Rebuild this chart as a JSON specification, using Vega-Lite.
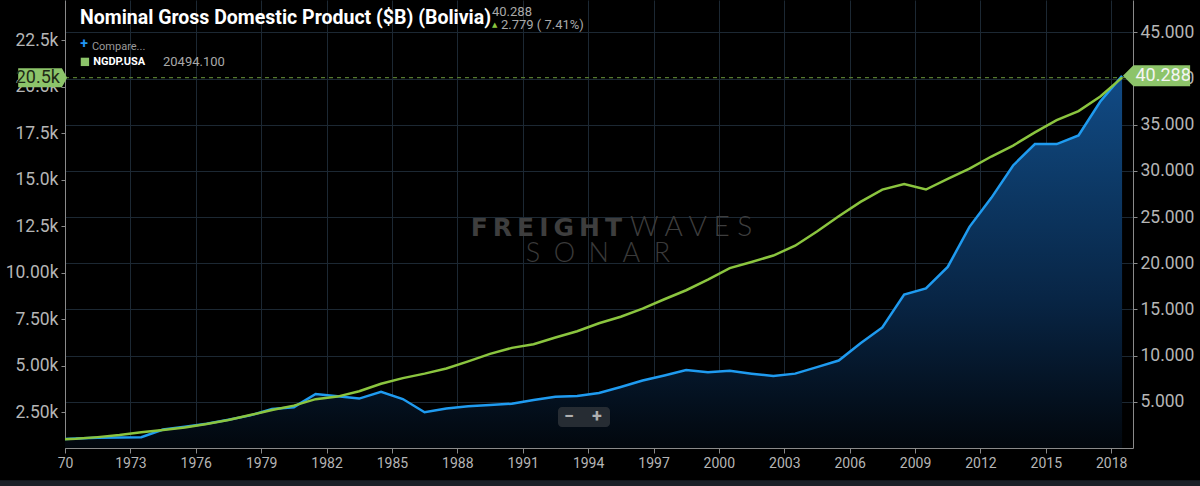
{
  "$schema": "https://vega.github.io/schema/vega-lite/v6.json",
  "width": 1068,
  "height": 448,
  "autosize": "none",
  "padding": {"left": 65, "top": 0, "right": 67, "bottom": 38},
  "background": "#000000",
  "data": {
    "values": [
      {"date": "1969-07-02", "usa": 1019.9, "bolivia": 0.95},
      {"date": "1970-07-02", "usa": 1073.3, "bolivia": 1.02},
      {"date": "1971-07-02", "usa": 1164.9, "bolivia": 1.1},
      {"date": "1972-07-02", "usa": 1279.1, "bolivia": 1.15},
      {"date": "1973-07-02", "usa": 1425.4, "bolivia": 1.17},
      {"date": "1974-07-02", "usa": 1545.2, "bolivia": 2.0},
      {"date": "1975-07-02", "usa": 1684.9, "bolivia": 2.3},
      {"date": "1976-07-02", "usa": 1873.4, "bolivia": 2.62},
      {"date": "1977-07-02", "usa": 2081.8, "bolivia": 3.05},
      {"date": "1978-07-02", "usa": 2351.6, "bolivia": 3.53},
      {"date": "1979-07-02", "usa": 2627.3, "bolivia": 4.22},
      {"date": "1980-07-02", "usa": 2857.3, "bolivia": 4.42},
      {"date": "1981-07-02", "usa": 3207.0, "bolivia": 5.85},
      {"date": "1982-07-02", "usa": 3343.8, "bolivia": 5.6},
      {"date": "1983-07-02", "usa": 3634.0, "bolivia": 5.35},
      {"date": "1984-07-02", "usa": 4037.6, "bolivia": 6.08},
      {"date": "1985-07-02", "usa": 4339.0, "bolivia": 5.3},
      {"date": "1986-07-02", "usa": 4579.6, "bolivia": 3.87},
      {"date": "1987-07-02", "usa": 4855.2, "bolivia": 4.27},
      {"date": "1988-07-02", "usa": 5236.4, "bolivia": 4.52},
      {"date": "1989-07-02", "usa": 5641.6, "bolivia": 4.66},
      {"date": "1990-07-02", "usa": 5963.1, "bolivia": 4.8},
      {"date": "1991-07-02", "usa": 6158.1, "bolivia": 5.2},
      {"date": "1992-07-02", "usa": 6520.3, "bolivia": 5.55},
      {"date": "1993-07-02", "usa": 6858.6, "bolivia": 5.64},
      {"date": "1994-07-02", "usa": 7287.2, "bolivia": 5.95},
      {"date": "1995-07-02", "usa": 7639.7, "bolivia": 6.6},
      {"date": "1996-07-02", "usa": 8073.1, "bolivia": 7.3},
      {"date": "1997-07-02", "usa": 8577.6, "bolivia": 7.85},
      {"date": "1998-07-02", "usa": 9062.8, "bolivia": 8.45},
      {"date": "1999-07-02", "usa": 9631.2, "bolivia": 8.2},
      {"date": "2000-07-02", "usa": 10251.0, "bolivia": 8.35},
      {"date": "2001-07-02", "usa": 10581.9, "bolivia": 8.05},
      {"date": "2002-07-02", "usa": 10929.1, "bolivia": 7.8},
      {"date": "2003-07-02", "usa": 11456.4, "bolivia": 8.05},
      {"date": "2004-07-02", "usa": 12217.2, "bolivia": 8.75},
      {"date": "2005-07-02", "usa": 13039.2, "bolivia": 9.47},
      {"date": "2006-07-02", "usa": 13815.6, "bolivia": 11.35},
      {"date": "2007-07-02", "usa": 14474.2, "bolivia": 13.05},
      {"date": "2008-07-02", "usa": 14769.9, "bolivia": 16.6},
      {"date": "2009-07-02", "usa": 14478.1, "bolivia": 17.28},
      {"date": "2010-07-02", "usa": 15049.0, "bolivia": 19.6},
      {"date": "2011-07-02", "usa": 15599.7, "bolivia": 23.94},
      {"date": "2012-07-02", "usa": 16254.0, "bolivia": 27.08},
      {"date": "2013-07-02", "usa": 16843.2, "bolivia": 30.59},
      {"date": "2014-07-02", "usa": 17550.7, "bolivia": 32.9},
      {"date": "2015-07-02", "usa": 18206.0, "bolivia": 32.9},
      {"date": "2016-07-02", "usa": 18695.1, "bolivia": 33.84},
      {"date": "2017-07-02", "usa": 19479.6, "bolivia": 37.509},
      {"date": "2018-07-02", "usa": 20494.1, "bolivia": 40.288}
    ]
  },
  "layer": [
    {
      "mark": {
        "type": "area",
        "clip": true,
        "color": {
          "gradient": "linear",
          "x1": 1, "y1": 1, "x2": 1, "y2": 0,
          "stops": [
            {"offset": 0, "color": "#02070d"},
            {"offset": 0.4, "color": "#082545"},
            {"offset": 0.8, "color": "#0e3f70"},
            {"offset": 1, "color": "#114a85"}
          ]
        }
      },
      "encoding": {
        "x": {
          "field": "date",
          "type": "temporal",
          "scale": {
            "type": "utc",
            "nice": false,
            "domain": [
              {"year": 1970, "month": 1, "date": 1, "utc": true},
              {"year": 2019, "month": 1, "date": 1, "utc": true}
            ]
          },
          "axis": {
            "orient": "bottom",
            "title": null,
            "format": "%Y",
            "values": [
              0, 94694400000, 189302400000, 283996800000, 378691200000, 473385600000,
              567993600000, 662688000000, 757382400000, 852076800000, 946684800000,
              1041379200000, 1136073600000, 1230768000000, 1325376000000,
              1420070400000, 1514764800000
            ],
            "labelExpr": "utcyear(datum.value) == 1970 ? '     70' : datum.label",
            "labelFlush": false,
            "labelOverlap": false,
            "labelFontSize": 14,
            "labelPadding": 3,
            "tickSize": 5,
            "grid": true
          }
        },
        "y": {
          "field": "bolivia",
          "type": "quantitative",
          "scale": {"domain": [0, 48.5], "nice": false},
          "axis": {
            "orient": "right",
            "title": null,
            "values": [5, 10, 15, 20, 25, 30, 35, 40, 45],
            "format": ".3f",
            "labelFontSize": 17.5,
            "labelPadding": 3,
            "tickSize": 4,
            "grid": true
          }
        }
      }
    },
    {
      "mark": {"type": "line", "clip": true, "color": "#1f9bf0", "strokeWidth": 2.5},
      "encoding": {
        "x": {"field": "date", "type": "temporal"},
        "y": {"field": "bolivia", "type": "quantitative", "scale": {"domain": [0, 48.5], "nice": false}, "axis": null}
      }
    },
    {
      "data": {"values": [{}]},
      "mark": {"type": "text", "align": "right", "baseline": "middle", "font": "DejaVu Sans", "fontWeight": "bold", "fontSize": 25, "color": "#3e3e3e"},
      "encoding": {
        "x": {"datum": {"year": 1995, "month": 7, "date": 22, "utc": true}, "type": "temporal"},
        "y": {"datum": 23.8, "type": "quantitative", "scale": {"domain": [0, 48.5], "nice": false}, "axis": null},
        "text": {"value": "F\u2009R\u2009E\u2009I\u2009G\u2009H\u2009T"}
      }
    },
    {
      "data": {"values": [{}]},
      "mark": {"type": "text", "align": "left", "baseline": "middle", "font": "Lato", "fontWeight": 300, "fontSize": 28, "color": "#3e3e3e"},
      "encoding": {
        "x": {"datum": {"year": 1995, "month": 12, "date": 3, "utc": true}, "type": "temporal"},
        "y": {"datum": 23.8, "type": "quantitative", "scale": {"domain": [0, 48.5], "nice": false}, "axis": null},
        "text": {"value": "W A V E S"}
      }
    },
    {
      "data": {"values": [{}]},
      "mark": {"type": "text", "align": "center", "baseline": "middle", "font": "Lato", "fontWeight": 300, "fontSize": 27, "color": "#3a3a3a"},
      "encoding": {
        "x": {"datum": {"year": 1994, "month": 6, "date": 14, "utc": true}, "type": "temporal"},
        "y": {"datum": 21.0, "type": "quantitative", "scale": {"domain": [0, 48.5], "nice": false}, "axis": null},
        "text": {"value": "S\u2002O\u2002N\u2002A\u2002R"}
      }
    },
    {
      "data": {"values": [{}]},
      "mark": {"type": "rect", "color": "#262c33", "cornerRadius": 4},
      "encoding": {
        "x": {"datum": {"year": 1992, "month": 8, "date": 14, "utc": true}, "type": "temporal"},
        "x2": {"datum": {"year": 1995, "month": 1, "date": 3, "utc": true}},
        "y": {"datum": 4.44, "type": "quantitative", "scale": {"domain": [0, 48.5], "nice": false}, "axis": null},
        "y2": {"datum": 2.27}
      }
    },
    {
      "data": {"values": [{}]},
      "mark": {"type": "text", "align": "center", "baseline": "middle", "font": "Roboto", "fontWeight": "bold", "fontSize": 18, "color": "#b0b0b0"},
      "encoding": {
        "x": {"datum": {"year": 1993, "month": 2, "date": 14, "utc": true}, "type": "temporal"},
        "y": {"datum": 3.4, "type": "quantitative", "scale": {"domain": [0, 48.5], "nice": false}, "axis": null},
        "text": {"value": "−"}
      }
    },
    {
      "data": {"values": [{}]},
      "mark": {"type": "text", "align": "center", "baseline": "middle", "font": "Roboto", "fontWeight": "bold", "fontSize": 18, "color": "#b0b0b0"},
      "encoding": {
        "x": {"datum": {"year": 1994, "month": 5, "date": 30, "utc": true}, "type": "temporal"},
        "y": {"datum": 3.4, "type": "quantitative", "scale": {"domain": [0, 48.5], "nice": false}, "axis": null},
        "text": {"value": "+"}
      }
    },
    {
      "data": {"values": [{}]},
      "mark": {"type": "rule", "color": "#557a2f", "strokeWidth": 1.2, "strokeDash": [4, 4]},
      "encoding": {
        "y": {"datum": 20494.1, "type": "quantitative", "scale": {"domain": [580, 24670], "nice": false, "zero": false}, "axis": null}
      }
    },
    {
      "mark": {"type": "line", "clip": true, "color": "#8bc53f", "strokeWidth": 2.5},
      "encoding": {
        "x": {"field": "date", "type": "temporal"},
        "y": {
          "field": "usa",
          "type": "quantitative",
          "scale": {"domain": [580, 24670], "nice": false, "zero": false},
          "axis": {
            "orient": "left",
            "title": null,
            "values": [2500, 5000, 7500, 10000, 12500, 15000, 17500, 20000, 22500],
            "labelExpr": "datum.value == 10000 ? '10.00k' : format(datum.value, '.3s')",
            "labelFontSize": 17.5,
            "labelPadding": 3,
            "tickSize": 4,
            "grid": false
          }
        }
      }
    },
    {
      "data": {"values": [{}]},
      "mark": {"type": "point", "filled": true, "opacity": 1, "color": "#8dc46a", "size": 361, "shape": "M-4.6,-1L0,-1L0.55,0L0,1L-4.6,1Z"},
      "encoding": {
        "x": {"datum": {"year": 1969, "month": 11, "date": 10, "utc": true}, "type": "temporal"},
        "y": {"datum": 20494.1, "type": "quantitative", "scale": {"domain": [580, 24670], "nice": false, "zero": false}, "axis": null}
      }
    },
    {
      "data": {"values": [{}]},
      "mark": {"type": "text", "align": "right", "baseline": "middle", "dx": -2, "font": "Roboto", "fontSize": 18, "color": "#1f2a16"},
      "encoding": {
        "x": {"datum": {"year": 1969, "month": 11, "date": 10, "utc": true}, "type": "temporal"},
        "y": {"datum": 20494.1, "type": "quantitative", "scale": {"domain": [580, 24670], "nice": false, "zero": false}, "axis": null},
        "text": {"value": "20.5k"}
      }
    },
    {
      "data": {"values": [{}]},
      "mark": {"type": "point", "filled": true, "opacity": 1, "color": "#8dc46a", "size": 441, "shape": "M-1,0L0,-1L5.4,-1L5.4,1L0,1Z"},
      "encoding": {
        "x": {"datum": {"year": 2019, "month": 1, "date": 8, "utc": true}, "type": "temporal"},
        "y": {"datum": 40.288, "type": "quantitative", "scale": {"domain": [0, 48.5], "nice": false}, "axis": null}
      }
    },
    {
      "data": {"values": [{}]},
      "mark": {"type": "text", "align": "left", "baseline": "middle", "dx": 2, "font": "Roboto", "fontSize": 18, "color": "#f4f4f4"},
      "encoding": {
        "x": {"datum": {"year": 2019, "month": 1, "date": 8, "utc": true}, "type": "temporal"},
        "y": {"datum": 40.288, "type": "quantitative", "scale": {"domain": [0, 48.5], "nice": false}, "axis": null},
        "text": {"value": "40.288"}
      }
    },
    {
      "data": {"values": [{}]},
      "mark": {"type": "text", "align": "left", "baseline": "middle", "font": "Roboto", "fontWeight": "bold", "fontSize": 19.5, "color": "#ffffff"},
      "encoding": {
        "x": {"datum": {"year": 1970, "month": 9, "date": 9, "utc": true}, "type": "temporal"},
        "y": {"datum": 46.6, "type": "quantitative", "scale": {"domain": [0, 48.5], "nice": false}, "axis": null},
        "text": {"value": "Nominal Gross Domestic Product ($B) (Bolivia)"}
      }
    },
    {
      "data": {"values": [{}]},
      "mark": {"type": "text", "align": "left", "baseline": "middle", "font": "Roboto", "fontSize": 13, "color": "#a9a9a9"},
      "encoding": {
        "x": {"datum": {"year": 1989, "month": 8, "date": 4, "utc": true}, "type": "temporal"},
        "y": {"datum": 47.2, "type": "quantitative", "scale": {"domain": [0, 48.5], "nice": false}, "axis": null},
        "text": {"value": "40.288"}
      }
    },
    {
      "data": {"values": [{}]},
      "mark": {"type": "text", "align": "center", "baseline": "middle", "font": "DejaVu Sans", "fontSize": 7, "color": "#8bc53f"},
      "encoding": {
        "x": {"datum": {"year": 1989, "month": 9, "date": 20, "utc": true}, "type": "temporal"},
        "y": {"datum": 45.75, "type": "quantitative", "scale": {"domain": [0, 48.5], "nice": false}, "axis": null},
        "text": {"value": "▲"}
      }
    },
    {
      "data": {"values": [{}]},
      "mark": {"type": "text", "align": "left", "baseline": "middle", "font": "Roboto", "fontSize": 13, "color": "#a9a9a9"},
      "encoding": {
        "x": {"datum": {"year": 1990, "month": 1, "date": 1, "utc": true}, "type": "temporal"},
        "y": {"datum": 45.8, "type": "quantitative", "scale": {"domain": [0, 48.5], "nice": false}, "axis": null},
        "text": {"value": "2.779 ( 7.41%)"}
      }
    },
    {
      "data": {"values": [{}]},
      "mark": {"type": "text", "align": "center", "baseline": "middle", "font": "Roboto", "fontWeight": "bold", "fontSize": 14, "color": "#2196f3"},
      "encoding": {
        "x": {"datum": {"year": 1970, "month": 11, "date": 15, "utc": true}, "type": "temporal"},
        "y": {"datum": 43.7, "type": "quantitative", "scale": {"domain": [0, 48.5], "nice": false}, "axis": null},
        "text": {"value": "+"}
      }
    },
    {
      "data": {"values": [{}]},
      "mark": {"type": "text", "align": "left", "baseline": "middle", "font": "Roboto", "fontSize": 11, "color": "#9a9a9a"},
      "encoding": {
        "x": {"datum": {"year": 1971, "month": 3, "date": 28, "utc": true}, "type": "temporal"},
        "y": {"datum": 43.4, "type": "quantitative", "scale": {"domain": [0, 48.5], "nice": false}, "axis": null},
        "text": {"value": "Compare..."}
      }
    },
    {
      "data": {"values": [{}]},
      "mark": {"type": "point", "shape": "square", "filled": true, "opacity": 1, "size": 70, "color": "#8dc46a"},
      "encoding": {
        "x": {"datum": {"year": 1970, "month": 12, "date": 1, "utc": true}, "type": "temporal"},
        "y": {"datum": 41.8, "type": "quantitative", "scale": {"domain": [0, 48.5], "nice": false}, "axis": null}
      }
    },
    {
      "data": {"values": [{}]},
      "mark": {"type": "text", "align": "left", "baseline": "middle", "font": "Roboto", "fontWeight": "bold", "fontSize": 11, "color": "#ffffff"},
      "encoding": {
        "x": {"datum": {"year": 1971, "month": 4, "date": 18, "utc": true}, "type": "temporal"},
        "y": {"datum": 41.8, "type": "quantitative", "scale": {"domain": [0, 48.5], "nice": false}, "axis": null},
        "text": {"value": "NGDP.USA"}
      }
    },
    {
      "data": {"values": [{}]},
      "mark": {"type": "text", "align": "left", "baseline": "middle", "font": "Roboto", "fontSize": 13, "color": "#a9a9a9"},
      "encoding": {
        "x": {"datum": {"year": 1974, "month": 7, "date": 1, "utc": true}, "type": "temporal"},
        "y": {"datum": 41.8, "type": "quantitative", "scale": {"domain": [0, 48.5], "nice": false}, "axis": null},
        "text": {"value": "20494.100"}
      }
    },
    {
      "data": {"values": [{}]},
      "mark": {"type": "rect", "color": "#1b2027"},
      "encoding": {
        "x": {"datum": {"year": 1966, "month": 1, "date": 1, "utc": true}, "type": "temporal"},
        "x2": {"datum": {"year": 2023, "month": 1, "date": 1, "utc": true}},
        "y": {"datum": -3.5, "type": "quantitative", "scale": {"domain": [0, 48.5], "nice": false}, "axis": null},
        "y2": {"datum": -5}
      }
    }
  ],
  "resolve": {"scale": {"y": "independent"}},
  "config": {
    "view": {"stroke": null},
    "axis": {
      "labelFont": "Roboto",
      "labelColor": "#b5b5b5",
      "domainColor": "#8a8a8a",
      "tickColor": "#8a8a8a",
      "gridColor": "#1c2833",
      "gridWidth": 1
    }
  }
}
